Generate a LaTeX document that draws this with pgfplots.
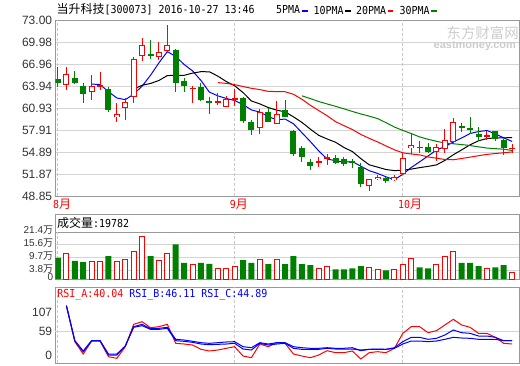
\documentclass[border=0pt]{standalone}
\usepackage{fontspec}
\usepackage{pgfplots}
\usepackage{pgfplotstable}
\pgfplotsset{compat=1.18}
\setmainfont{Liberation Sans}
\newfontfamily\cjk{Noto Sans CJK SC}
\newfontfamily\mono{DejaVu Sans Mono}[FakeStretch=0.906]
\definecolor{upred}{HTML}{FF0000}
\definecolor{dngreen}{HTML}{008000}
\definecolor{frame}{HTML}{999999}
\definecolor{gridc}{HTML}{D4D4D4}
\definecolor{dashc}{HTML}{C8C8C8}
\definecolor{labc}{HTML}{333333}
\definecolor{wm}{HTML}{CCCCCC}
\newcommand\lab{\fontsize{12pt}{12pt}\selectfont}
\newcommand\mn{\mono\fontsize{11pt}{11pt}\selectfont}
\newcommand\cj{\cjk\fontsize{12pt}{12pt}\selectfont}
\newcommand\wan{\smash{\cjk 万}}

\pgfplotstableread{
i o h l c
1 64.05 66.56 63.36 65.60
4 63.13 65.46 62.07 63.91
5 63.85 65.87 63.40 64.09
7 59.65 61.62 59.05 60.06
8 60.89 62.26 59.32 61.75
9 62.40 67.97 61.66 67.75
10 68.03 70.54 67.42 69.54
12 67.89 69.99 67.52 68.58
13 68.75 72.32 68.48 69.54
16 63.58 63.91 61.66 63.72
19 61.66 62.95 61.34 61.85
20 61.11 62.58 61.11 62.17
21 62.12 63.50 61.20 62.30
24 58.23 60.75 57.40 60.38
26 58.69 61.89 58.69 60.06
31 53.42 54.24 52.87 53.61
32 54.03 54.57 53.11 54.20
37 50.22 51.22 49.58 51.14
38 51.22 51.69 51.05 51.50
40 51.01 51.73 50.87 51.50
41 51.83 54.79 51.73 54.11
42 55.40 57.40 54.57 55.81
45 54.89 55.95 53.65 55.58
46 55.34 58.09 54.71 56.50
47 56.22 59.52 55.99 58.97
51 56.99 57.77 56.50 57.18
54 55.34 55.99 54.79 55.48
}\up

\pgfplotstableread{
i o h l c
0 64.91 66.56 63.85 64.36
2 65.05 66.01 64.22 64.40
3 63.95 64.36 61.66 62.89
6 63.54 63.85 60.42 60.66
11 68.38 70.26 67.70 68.11
14 68.89 69.07 63.08 64.40
15 64.64 65.09 63.17 63.99
17 63.81 64.32 61.85 61.99
18 61.85 62.48 60.06 61.57
22 62.30 62.48 58.91 59.19
23 59.01 59.28 57.22 57.91
25 60.34 60.89 59.05 59.05
27 60.66 61.99 59.74 59.74
28 57.77 57.91 54.34 54.66
29 55.44 55.71 53.56 54.24
30 53.48 53.97 52.46 53.01
33 54.07 54.48 53.24 53.42
34 53.97 54.24 53.01 53.24
35 53.61 53.93 52.73 53.42
36 52.87 53.34 50.13 50.46
39 51.32 51.50 50.68 50.91
43 55.62 56.44 54.71 55.44
44 55.58 56.08 54.71 54.89
48 58.46 58.87 57.59 58.23
49 58.23 59.69 57.32 57.91
50 57.40 58.28 56.44 56.95
52 57.77 57.77 56.44 56.67
53 56.50 56.72 54.48 55.48
}\dn

\pgfplotstableread{
i v
1 11.40
4 8.14
5 8.14
7 8.14
8 9.07
9 12.33
10 19.16
12 8.60
13 11.72
16 6.74
19 4.74
20 4.74
21 5.67
24 9.07
26 8.93
31 4.74
32 5.67
37 5.21
38 4.42
40 4.42
41 6.74
42 9.40
45 6.74
46 10.47
47 12.33
51 4.88
54 3.02
}\volup

\pgfplotstableread{
i v
0 9.67
2 8.28
3 7.67
6 10.47
11 10.47
14 15.72
15 7.35
17 7.35
18 6.88
22 8.60
23 7.35
25 6.74
27 6.74
28 10.47
29 6.74
30 6.28
33 4.42
34 4.42
35 4.88
36 5.81
39 3.95
43 5.35
44 4.88
48 7.35
49 7.35
50 5.81
52 5.35
53 6.28
}\voldn

\pgfplotsset{panel/.style={
  scale only axis, width=464pt, anchor=north west,
  xmin=-0.32, xmax=54.85,
  axis line style={draw=frame, line width=1pt},
  xtick=\empty, major tick length=0pt, tick style={draw=none},
  yticklabel style={font=\lab, text=labc, anchor=east, inner sep=0pt, xshift=-3pt},
  ymajorgrids, major grid style={draw=gridc, line width=1pt},
  extra x ticks={0,21,41},
  extra x tick style={grid=major, major grid style={draw=dashc, line width=1pt, dash pattern=on 3pt off 2pt}},
},
candle/.style={draw=none, mark=none, forget plot, error bars/.cd, y dir=both, y explicit, error mark=none}}

\begin{document}
\begin{tikzpicture}
\path[use as bounding box] (0,0) rectangle (520pt,-365pt);

% title and legend
\node[anchor=west, inner sep=0pt] at (56.5pt,-9.5pt) {\cj 当升科技\mn[300073] 2016-10-27 13:46};
\node[anchor=west, inner sep=0pt] at (276pt,-10pt) {\mn 5PMA};
\fill[blue] (302.3pt,-10pt) rectangle (307.7pt,-12pt);
\node[anchor=west, inner sep=0pt] at (313.3pt,-10pt) {\mn 10PMA};
\fill[black] (345pt,-10pt) rectangle (350.7pt,-12pt);
\node[anchor=west, inner sep=0pt] at (356pt,-10pt) {\mn 20PMA};
\fill[upred] (387.7pt,-10pt) rectangle (393.3pt,-12pt);
\node[anchor=west, inner sep=0pt] at (399.3pt,-10pt) {\mn 30PMA};
\fill[dngreen] (430.7pt,-10pt) rectangle (436.7pt,-12pt);

% ===== price panel =====
\begin{axis}[panel, at={(55.3pt,-20.3pt)}, height=175.7pt,
  ymin=48.85, ymax=73.00,
  ytick={48.85,51.87,54.89,57.91,60.93,63.94,66.96,69.98,73.00},
  yticklabels={48.85,51.87,54.89,57.91,60.93,63.94,66.96,69.98,73.00},
  extra x tick labels={{\mn 8\cj 月},{\mn 9\cj 月},{\mn 10\cj 月}},
  extra x tick style={xticklabel style={anchor=west, inner sep=0pt, xshift=-5pt, yshift=-8pt, text=upred}},
]
\node[anchor=west, inner sep=0pt, text=wm] at (rel axis cs:0.843,0.93) {\cjk\fontsize{14.4pt}{14.4pt}\selectfont 东方财富网};
\node[anchor=west, inner sep=0pt, text=wm] at (rel axis cs:0.815,0.855) {\fontsize{11pt}{11pt}\selectfont\bfseries eastmoney.com};

% moving averages
\addplot[blue, line width=1pt] coordinates {(4,64.23) (5,64.18) (6,63.19) (7,62.32) (8,62.09) (9,62.86) (10,63.95) (11,65.44) (12,67.15) (13,68.70) (14,68.03) (15,66.92) (16,66.05) (17,64.73) (18,63.13) (19,62.62) (20,62.26) (21,61.98) (22,61.42) (23,60.68) (24,60.39) (25,59.77) (26,59.32) (27,59.43) (28,58.78) (29,57.55) (30,56.34) (31,55.05) (32,53.94) (33,53.70) (34,53.50) (35,53.58) (36,52.95) (37,52.34) (38,51.95) (39,51.49) (40,51.10) (41,51.83) (42,52.77) (43,53.55) (44,54.35) (45,55.17) (46,55.64) (47,56.28) (48,56.83) (49,57.44) (50,57.71) (51,57.85) (52,57.39) (53,56.84) (54,56.35)};
\addplot[black, line width=1pt] coordinates {(9,63.55) (10,64.07) (11,64.32) (12,64.73) (13,65.40) (14,65.45) (15,65.44) (16,65.74) (17,65.94) (18,65.92) (19,65.33) (20,64.59) (21,64.01) (22,63.07) (23,61.91) (24,61.51) (25,61.01) (26,60.65) (27,60.42) (28,59.73) (29,58.97) (30,58.05) (31,57.19) (32,56.69) (33,56.24) (34,55.52) (35,54.96) (36,54.00) (37,53.14) (38,52.82) (39,52.49) (40,52.34) (41,52.39) (42,52.55) (43,52.75) (44,52.92) (45,53.13) (46,53.74) (47,54.52) (48,55.19) (49,55.89) (50,56.44) (51,56.75) (52,56.83) (53,56.84) (54,56.89)};
\addplot[upred, line width=1pt] coordinates {(19,64.44) (20,64.33) (21,64.16) (22,63.90) (23,63.65) (24,63.48) (25,63.23) (26,63.20) (27,63.18) (28,62.83) (29,62.15) (30,61.32) (31,60.60) (32,59.88) (33,59.07) (34,58.52) (35,57.99) (36,57.32) (37,56.78) (38,56.28) (39,55.73) (40,55.20) (41,54.79) (42,54.62) (43,54.50) (44,54.22) (45,54.05) (46,53.87) (47,53.83) (48,54.01) (49,54.19) (50,54.39) (51,54.57) (52,54.69) (53,54.79) (54,54.91)};
\addplot[dngreen, line width=1pt] coordinates {(29,62.62) (30,62.24) (31,61.84) (32,61.50) (33,61.18) (34,60.83) (35,60.47) (36,60.13) (37,59.83) (38,59.49) (39,58.93) (40,58.33) (41,57.86) (42,57.44) (43,56.97) (44,56.65) (45,56.37) (46,56.13) (47,56.03) (48,55.92) (49,55.79) (50,55.61) (51,55.44) (52,55.36) (53,55.28) (54,55.11)};

% green candles: wick + body
\addplot[candle, error bar style={draw=dngreen, line width=1pt}]
  table[x=i, y expr={(\thisrow{h}+\thisrow{l})/2}, y error expr={(\thisrow{h}-\thisrow{l})/2}] {\dn};
\addplot[candle, error bar style={draw=dngreen, line width=6pt}]
  table[x=i, y expr={(\thisrow{o}+\thisrow{c})/2}, y error expr={(\thisrow{o}-\thisrow{c})/2}] {\dn};
% red candles: wick + hollow body
\addplot[candle, error bar style={draw=upred, line width=1pt}]
  table[x=i, y expr={(\thisrow{h}+\thisrow{l})/2}, y error expr={(\thisrow{h}-\thisrow{l})/2}] {\up};
\addplot[candle, error bar style={draw=upred, line width=6pt}]
  table[x=i, y expr={(\thisrow{o}+\thisrow{c})/2}, y error expr={(\thisrow{c}-\thisrow{o})/2}] {\up};
\addplot[candle, error bar style={draw=white, line width=4pt}]
  table[x=i, y expr={(\thisrow{o}+\thisrow{c})/2}, y error expr={max(0,(\thisrow{c}-\thisrow{o})/2-0.137)}] {\up};
\end{axis}

% ===== volume panel =====
\draw[frame, line width=1pt] (55.3pt,-214pt) rectangle (519.3pt,-232pt);
\node[anchor=west, inner sep=0pt] at (57pt,-223pt) {\cj 成交量\mn:19782};
\begin{axis}[panel, at={(55.3pt,-232pt)}, height=47pt,
  ymin=0, ymax=21.4,
  ytick={0,3.8,9.7,15.6,21.4},
  yticklabels={\raisebox{-6pt}{0},{3.8\wan},{9.7\wan},{15.6\wan},{21.4\wan}},
  yticklabel style={xshift=1pt, yshift=2pt, font=\fontsize{10pt}{10pt}\selectfont},
  extra x tick labels={},
]
\addplot[ybar, bar width=6pt, bar shift=0pt, fill=dngreen, draw=none] table[x=i, y=v] {\voldn};
\addplot[ybar, bar width=5pt, bar shift=0pt, fill=white, draw=upred, line width=1pt] table[x=i, y=v] {\volup};
\end{axis}

% ===== RSI panel =====
\begin{axis}[panel, at={(55.3pt,-287pt)}, height=76pt,
  ymin=-20, ymax=170, ymajorgrids=false,
  ytick={0,107}, yticklabels={0,107},
  extra y ticks={59}, extra y tick labels={59},
  extra y tick style={ymajorgrids=true, major grid style={draw=gridc, line width=1pt}},
  extra x tick labels={},
]
\node[anchor=west, inner sep=0pt] at (rel axis cs:0.004,0.90) {\mn\textcolor{upred}{RSI\_A:40.04} \textcolor{blue}{RSI\_B:46.11} \textcolor{blue}{RSI\_C:44.89}};
\addplot[upred, line width=1pt] coordinates {(1,123.3) (2,33.3) (3,2.5) (4,35.0) (5,35.0) (6,-4.2) (7,-8.3) (8,20.8) (9,76.7) (10,83.3) (11,68.3) (12,70.8) (13,76.7) (14,29.2) (15,27.5) (16,25.0) (17,14.2) (18,10.0) (19,12.5) (20,16.7) (21,20.8) (22,-2.5) (23,-6.7) (24,27.5) (25,20.8) (26,30.8) (27,29.2) (28,2.5) (29,-2.5) (30,-6.7) (31,0) (32,10.8) (33,5.8) (34,5.8) (35,10.0) (36,-10.0) (37,5.8) (38,8.3) (39,5.8) (40,16.7) (41,54.2) (42,70.8) (43,70.8) (44,55.8) (45,60.8) (46,75.0) (47,89.2) (48,75.0) (49,69.2) (50,54.2) (51,54.2) (52,44.2) (53,29.2) (54,27.5)};
\addplot[blue, line width=1pt] coordinates {(1,123.3) (2,35.8) (3,10.0) (4,35.8) (5,35.8) (6,2.5) (7,2.5) (8,22.5) (9,69.2) (10,73.3) (11,64.2) (12,64.2) (13,66.7) (14,35.8) (15,34.2) (16,31.7) (17,27.5) (18,25.8) (19,26.7) (20,27.5) (21,29.2) (22,15.0) (23,12.5) (24,29.2) (25,25.0) (26,27.5) (27,29.2) (28,16.7) (29,14.2) (30,14.2) (31,14.2) (32,16.7) (33,15.0) (34,15.0) (35,15.0) (36,12.5) (37,14.2) (38,14.2) (39,14.2) (40,16.7) (41,27.5) (42,35.0) (43,35.0) (44,33.3) (45,35.0) (46,39.2) (47,44.2) (48,42.5) (49,41.7) (50,39.2) (51,39.2) (52,39.2) (53,35.8) (54,35.8)};
\addplot[blue, line width=1pt] coordinates {(1,123.3) (2,35.8) (3,8.3) (4,35.8) (5,35.8) (6,0) (7,0) (8,22.5) (9,70.8) (10,76.7) (11,65.8) (12,66.7) (13,69.2) (14,39.2) (15,37.5) (16,34.2) (17,30.8) (18,29.2) (19,30.8) (20,32.5) (21,33.3) (22,20.8) (23,18.3) (24,30.8) (25,27.5) (26,30.8) (27,30.8) (28,20.8) (29,18.3) (30,16.7) (31,16.7) (32,18.3) (33,16.7) (34,16.7) (35,18.3) (36,10.8) (37,14.2) (38,15.0) (39,14.2) (40,18.3) (41,33.3) (42,44.2) (43,44.2) (44,39.2) (45,41.7) (46,50.0) (47,62.5) (48,55.8) (49,54.2) (50,47.5) (51,47.5) (52,44.2) (53,35.8) (54,35.8)};
\end{axis}
\end{tikzpicture}
\end{document}
